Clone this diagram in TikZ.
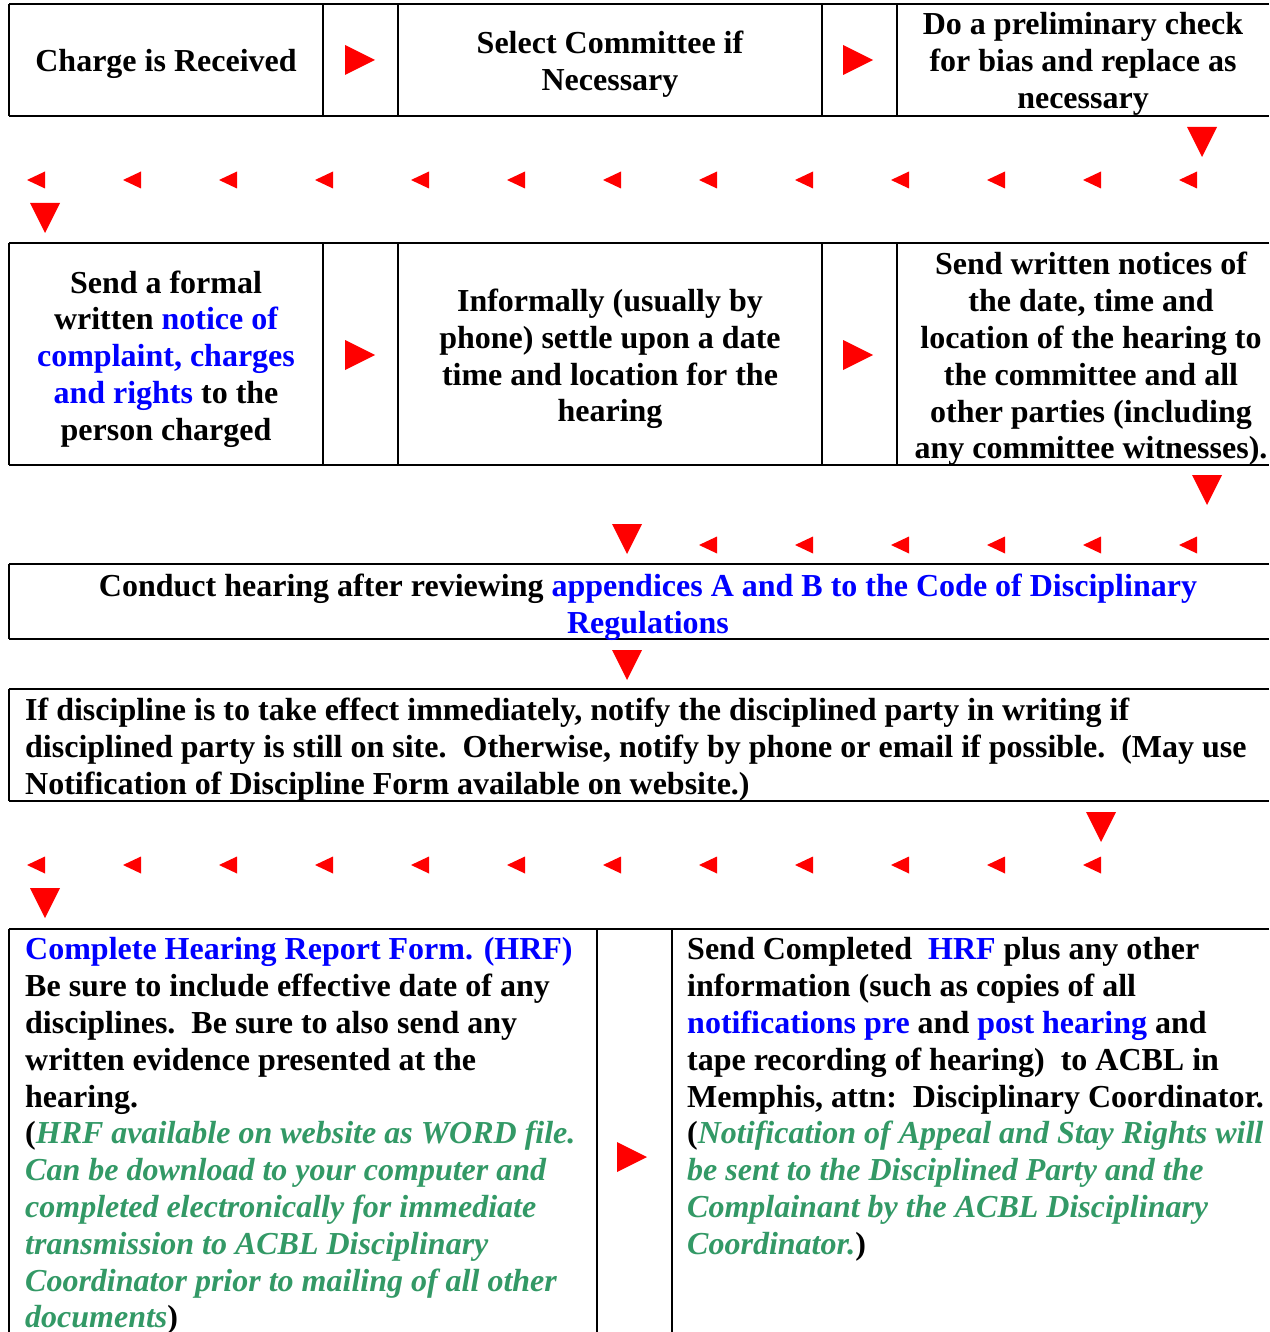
\documentclass[tikz,border=0pt]{standalone}
\usepackage{fontspec}
\setmainfont{Liberation Serif}
\usepackage{xcolor}
\usetikzlibrary{positioning,calc}
\definecolor{linkblue}{HTML}{0000FF}
\definecolor{notegreen}{HTML}{339966}
\definecolor{arrowred}{HTML}{FF0000}
\newcommand{\lnk}[1]{\textcolor{linkblue}{#1}}
\newcommand{\greennote}[1]{\textcolor{notegreen}{\textit{#1}}}
% red triangles: right, down, small left
\newcommand{\rtri}[2]{\fill[arrowred] (#1-15,#2-15) -- (#1+15,#2) -- (#1-15,#2+15) -- cycle;}
\newcommand{\dtri}[2]{\fill[arrowred] (#1-15,#2-15) -- (#1+15,#2-15) -- (#1,#2+15) -- cycle;}
\newcommand{\ltri}[2]{\fill[arrowred] (#1+9,#2-8.5) -- (#1+9,#2+8.5) -- (#1-9,#2) -- cycle;}
\tikzset{
    stepfont/.style={font=\fontsize{32}{36.8}\selectfont\bfseries},
    centertext/.style={stepfont, align=center, inner sep=0pt},
    lefttext/.style={stepfont, align=left, anchor=north west, inner sep=0pt},
    rule/.style={line width=2.6pt},
    divider/.style={line width=2pt}
}

\begin{document}
\begin{tikzpicture}[x=1pt,y=-1pt]
    \useasboundingbox (0,0) rectangle (1269,1332);

    % row 1
    \draw[rule] (1269,4) -- (9,4);
    \draw[rule] (9,116) -- (1269,116);
    \draw[divider] (9,4) -- (9,116);
    \draw[divider] (323,4) -- (323,116);
    \draw[divider] (398,4) -- (398,116);
    \draw[divider] (822,4) -- (822,116);
    \draw[divider] (897,4) -- (897,116);
    \node[centertext] (charge) at (166,64) {Charge is Received};
    \node[centertext] (committee) at (610,64) {Select Committee if\\Necessary};
    \node[centertext] (bias) at (1083,64) {Do a preliminary check\\for bias and replace as\\necessary};
    \rtri{360}{60}
    \rtri{858}{60}

    % back to the left
    \dtri{1202}{142}
    \foreach \k in {0,...,12} {\ltri{36+96*\k}{180}}
    \dtri{45}{218}

    % row 2
    \draw[rule] (1269,243) -- (9,243);
    \draw[rule] (9,465) -- (1269,465);
    \draw[divider] (9,243) -- (9,465);
    \draw[divider] (323,243) -- (323,465);
    \draw[divider] (398,243) -- (398,465);
    \draw[divider] (822,243) -- (822,465);
    \draw[divider] (897,243) -- (897,465);
    \node[centertext] (notice) at (166,359) {Send a formal\\written \lnk{notice of}\\\lnk{complaint, charges}\\\lnk{and rights} to the\\person charged};
    \node[centertext] (settle) at (610,359) {Informally (usually by\\phone) settle upon a date\\time and location for the\\hearing};
    \node[centertext] (written) at (1091,359) {Send written notices of\\the date, time and\\location of the hearing to\\the committee and all\\other parties (including\\any committee witnesses).};
    \rtri{360}{355}
    \rtri{858}{355}

    \dtri{1207}{490}
    \foreach \k in {7,...,12} {\ltri{36+96*\k}{545}}
    \dtri{627}{539}

    % row 3
    \draw[rule] (1269,564) -- (9,564);
    \draw[rule] (9,639) -- (1269,639);
    \draw[divider] (9,564) -- (9,639);
    \node[centertext] (conduct) at (648,607) {Conduct hearing after reviewing \lnk{appendices A and B to the Code of Disciplinary}\\\lnk{Regulations}};

    \dtri{627}{665}

    % row 4
    \draw[rule] (1269,689) -- (9,689);
    \draw[rule] (9,801) -- (1269,801);
    \draw[divider] (9,689) -- (9,801);
    \node[lefttext] (notify) at (25,695) {\strut If discipline is to take effect immediately, notify the disciplined party in writing if\\disciplined party is still on site.\ \ Otherwise, notify by phone or email if possible.\ \ (May use\\Notification of Discipline Form available on website.)};

    \dtri{1101}{827}
    \foreach \k in {0,...,11} {\ltri{36+96*\k}{865}}
    \dtri{45}{903}

    % row 5
    \draw[rule] (1269,929) -- (9,929);
    \draw[divider] (9,929) -- (9,1332);
    \draw[divider] (597,929) -- (597,1332);
    \draw[divider] (672,929) -- (672,1332);
    \node[lefttext] (report) at (25,934) {\strut\lnk{Complete Hearing Report Form. (HRF)}\\Be sure to include effective date of any\\disciplines.\ \ Be sure to also send any\\written evidence presented at the\\hearing.\\(\greennote{HRF available on website as WORD file.}\\\greennote{Can be download to your computer and}\\\greennote{completed electronically for immediate}\\\greennote{transmission to ACBL Disciplinary}\\\greennote{Coordinator prior to mailing of all other}\\\greennote{documents})};
    \node[lefttext] (sendhrf) at (687,934) {\strut Send Completed\ \ \lnk{HRF} plus any other\\information (such as copies of all\\\lnk{notifications pre} and \lnk{post hearing} and\\tape recording of hearing)\ \ to ACBL in\\Memphis, attn:\ \ Disciplinary Coordinator.\\(\greennote{Notification of Appeal and Stay Rights will}\\\greennote{be sent to the Disciplined Party and the}\\\greennote{Complainant by the ACBL Disciplinary}\\\greennote{Coordinator.})};
    \rtri{632}{1157}
\end{tikzpicture}
\end{document}
